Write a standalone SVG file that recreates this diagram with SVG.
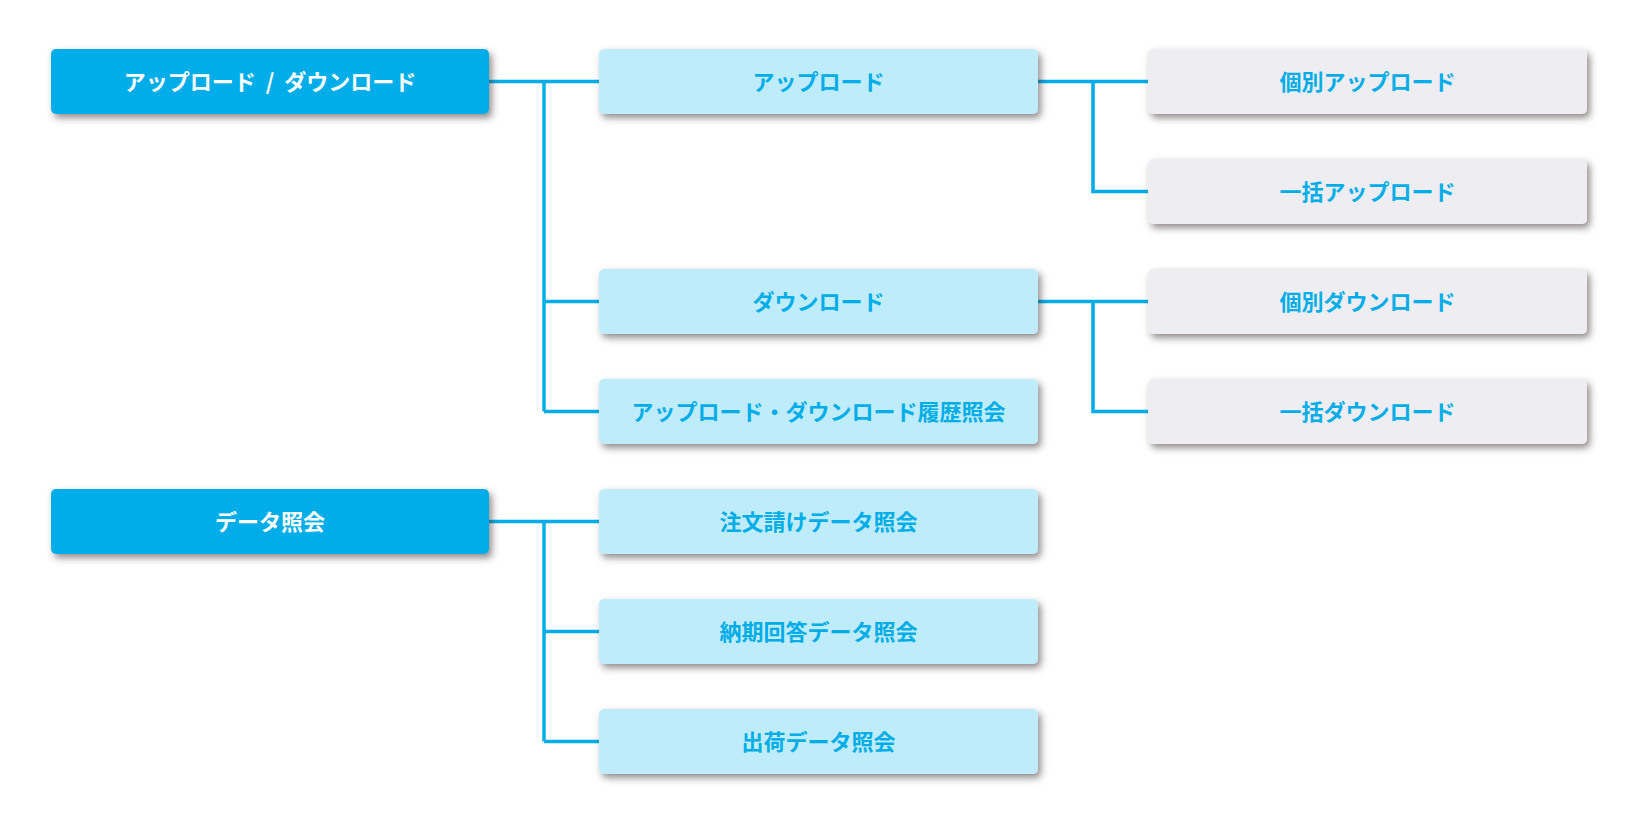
<svg xmlns="http://www.w3.org/2000/svg" width="1636" height="825" viewBox="0 0 1636 825">
<defs>
<filter id="sh" x="-10%" y="-30%" width="125%" height="180%">
<feDropShadow dx="3" dy="4" stdDeviation="3.5" flood-color="#3a2f2f" flood-opacity="0.55"/>
</filter>
<style>
.n rect{filter:url(#sh);}
.d rect{fill:#00ADE9;}
.l rect{fill:#BFECFA;}
.g rect{fill:#EEEEF2;}
text{font-family:"Noto Sans CJK JP","Noto Sans",sans-serif;font-weight:bold;font-size:22px;text-anchor:middle;dominant-baseline:central;}
.d text{fill:#FFFFFF;}
.l text,.g text{fill:#00ADE9;}
.c path{fill:none;stroke:#00ADE9;stroke-width:3.5;}
</style>
</defs>
<rect width="1636" height="825" fill="#FFFFFF"/>
<g id="connectors" class="c">
<path d="M489 81.5H599M544 81.5V411.5M544 301.5H599M544 411.5H599"/>
<path d="M1038 81.5H1148M1093 81.5V191.5H1148"/>
<path d="M1038 301.5H1148M1093 301.5V411.5H1148"/>
<path d="M489 521.5H599M544 521.5V741.5M544 631.5H599M544 741.5H599"/>
</g>
<g id="n-updown" class="n d"><rect x="51" y="49" width="438" height="65" rx="5"/><text x="270" y="79.5" xml:space="preserve">アップロード  /  ダウンロード</text></g>
<g id="n-upload" class="n l"><rect x="599" y="49" width="439" height="65" rx="5"/><text x="818.5" y="79.5">アップロード</text></g>
<g id="n-download" class="n l"><rect x="599" y="269" width="439" height="65" rx="5"/><text x="818.5" y="299.5">ダウンロード</text></g>
<g id="n-history" class="n l"><rect x="599" y="379" width="439" height="65" rx="5"/><text x="818.5" y="409.5">アップロード・ダウンロード履歴照会</text></g>
<g id="n-up-single" class="n g"><rect x="1148" y="49" width="439" height="65" rx="5"/><text x="1367.5" y="79.5">個別アップロード</text></g>
<g id="n-up-bulk" class="n g"><rect x="1148" y="159" width="439" height="65" rx="5"/><text x="1367.5" y="189.5">一括アップロード</text></g>
<g id="n-down-single" class="n g"><rect x="1148" y="269" width="439" height="65" rx="5"/><text x="1367.5" y="299.5">個別ダウンロード</text></g>
<g id="n-down-bulk" class="n g"><rect x="1148" y="379" width="439" height="65" rx="5"/><text x="1367.5" y="409.5">一括ダウンロード</text></g>
<g id="n-data" class="n d"><rect x="51" y="489" width="438" height="65" rx="5"/><text x="270" y="519.5">データ照会</text></g>
<g id="n-order" class="n l"><rect x="599" y="489" width="439" height="65" rx="5"/><text x="818.5" y="519.5">注文請けデータ照会</text></g>
<g id="n-delivery" class="n l"><rect x="599" y="599" width="439" height="65" rx="5"/><text x="818.5" y="629.5">納期回答データ照会</text></g>
<g id="n-ship" class="n l"><rect x="599" y="709" width="439" height="65" rx="5"/><text x="818.5" y="739.5">出荷データ照会</text></g>
</svg>
